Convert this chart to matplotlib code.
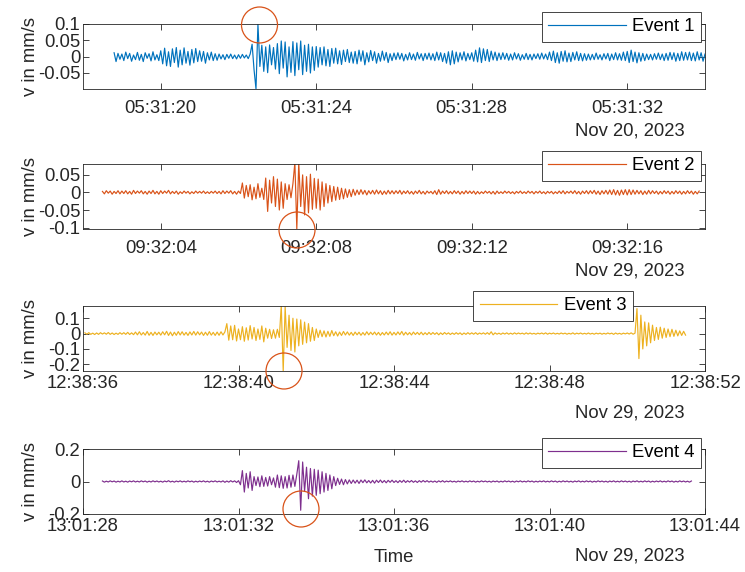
import numpy as np
import matplotlib
matplotlib.use('Agg')
import matplotlib.pyplot as plt
import matplotlib.dates as mdates
from matplotlib.patches import Ellipse
from matplotlib.ticker import FixedLocator, FixedFormatter

plt.rcParams['font.family'] = ['Liberation Sans', 'DejaVu Sans']
plt.rcParams['axes.unicode_minus'] = False

# ---------------- data (velocity in 0.001 mm/s, sampled every 50 ms) ----------------
SAMPLE_MS = 50
labels = ['Event 1', 'Event 2', 'Event 3', 'Event 4']
colors = ['#0072BD', '#D95319', '#EDB120', '#7E2F8E']
starts = ['2023-11-20T05:31:18.800', '2023-11-29T09:32:02.500',
          '2023-11-29T12:38:36.050', '2023-11-29T13:01:28.500']
windows = [('2023-11-20T05:31:18', '2023-11-20T05:31:34'),
           ('2023-11-29T09:32:02', '2023-11-29T09:32:18'),
           ('2023-11-29T12:38:36', '2023-11-29T12:38:52'),
           ('2023-11-29T13:01:28', '2023-11-29T13:01:44')]
date_labels = ['Nov 20, 2023', 'Nov 29, 2023', 'Nov 29, 2023', 'Nov 29, 2023']
ylims = [(-0.099, 0.1), (-0.104, 0.081), (-0.244, 0.182), (-0.2, 0.2)]
yticks = [[-0.05, 0, 0.05, 0.1], [-0.1, -0.05, 0, 0.05],
          [-0.2, -0.1, 0, 0.1], [-0.2, 0, 0.2]]
ytick_labels = [['-0.05', '0', '0.05', '0.1'], ['-0.1', '-0.05', '0', '0.05'],
                ['-0.2', '-0.1', '0', '0.1'], ['-0.2', '0', '0.2']]

v1 = [12, -15, 10, -8,
      8, -12, 14, -6, 10, -14, 5, -9, 13, -11, 7, -15, 12, -5, 9, -13, 15, -10, 6, -12,
      18, -22, 26, -28, 15, -30, 24, -18, 28, -32, 20, -25, 27, -20, 16, -26, 22, -19, 25, -15,
      18, -14, 16, -20, 12, -10, 14, -12, 9, -11, 8, -7, 6, -9, 7, -5, 8, -6, 5, -7,
      6, -5, 7, -4, 5, -6, 8, 38, -40, -99, 100, -30, 35, -45, 30, -49, 36, -25, 28, -38,
      40, -52, 48, -35, 45, -62, 30, -48, 46, -58, 42, -40, 48, -55, 35, -45, 38, -50, 30, -42,
      31, -32, 28, -25, 30, -28, 22, -30, 25, -20, 26, -22, 18, -24, 20, -15, 22, -18, 14, -20,
      16, -22, 20, -14, 18, -25, 12, -16, 19, -12, 15, -20, 10, -14, 17, -11, 13, -18, 9, -12,
      11, -9, 12, -8, 10, -13, 7, -10, 12, -9, 8, -11, 13, -7, 9, -12, 10, -8, 11, -10,
      9, -12, 14, -10, 12, -15, 10, -20, 15, -25, 18, -22, 14, -16, 12, -10, 15, -13, 10, -9,
      12, -14, 20, -16, 27, -18, 24, -12, 22, -15, 17, -10, 14, -12, 11, -9, 12, -8, 10, -11,
      8, -10, 12, -7, 9, -11, 6, -8, 10, -9, 7, -10, 8, -6, 9, -8, 11, -7, 8, -9,
      14, -12, 17, -18, 12, -20, 16, -14, 18, -16, 11, -15, 13, -10, 15, -12, 10, -13, 9, -11,
      8, -10, 7, -9, 11, -8, 6, -10, 9, -7, 10, -12, 8, -9, 12, -10, 9, -11, 14, -12,
      16, -18, 20, -15, 14, -19, 12, -14, 10, -12, 8, -9, 7, -10, 9, -8, 11, -9, 8, -12,
      10, -11, 13, -9, 12, -14, 10, -12, 15, -11, 13, -10, 14, -12, 11, -13, 15, -10, 12, -14,
      8]

v2 = [3, -4, 5, -2, 4, -5, 3, -3, 5, -4,
      4, -3, 5, -4, 3, -5, 6, -3, 4, -2, 5, -4, 3, -5, 4, -3, 6, -4, 3, -5,
      5, -3, 4, -2, 6, -4, 3, -3, 4, -5, 2, -3, 4, -2, 3, -4, 2, -3, 4, -2,
      3, -2, 4, -3, 2, -3, 3, -2, 4, -3, 3, -4, 5, -3, 4, -2, 5, -4, 3, -5,
      4, -3, 27, -16, 20, -12, 22, -21, 15, -18, 25, -14, 12, -20, 41, -54, 35, -30, 45, -40,
      38, -50, 30, -45, 25, -20, 22, -15, 25, 85, -104, 85, -40, 50, -64, 45, -58, 52, -48, 40,
      -45, 38, -50, 30, -40, 25, -30, 20, -26, 17, -22, 15, -20, 12, -18, 10, -14, 8, -12, 9,
      -8, 7, -6, 8, -5, 6, -7, 5, -4, 6, -5, 7, -4, 5, -6, 4, -5, 6, -4, 5,
      -4, 5, -3, 6, -5, 4, -3, 5, -4, 3, -5, 4, -3, 6, -4, 3, -5, 4, -2, 3,
      -4, 5, -6, 8, -5, 4, -3, 5, -4, 3, -4, 5, -3, 4, -5, 3, -4, 5, -3, 4,
      -3, 4, -5, 3, -4, 2, -3, 4, -2, 3, -4, 3, -5, 4, -3, 2, -3, 4, -2, 3,
      -3, 2, -4, 3, -2, 4, -3, 2, -3, 4, -2, 3, -4, 3, -2, 4, -3, 2, -4, 3,
      -2, 3, -4, 2, -3, 4, -3, 5, -4, 3, -2, 4, -3, 5, -4, 3, -5, 4, -3, 5,
      -4, 5, -3, 6, -5, 4, -6, 5, -4, 6, -5, 7, -6, 8, -7, 6, -8, 7, -6, 8,
      -7, 8, -6, 7, -5, 6, -4, 5, -6, 4, -5, 6, -4, 5, -3, 4, -5, 3, -4, 5,
      -3, 4, -5, 3, -4, 5, -3, 4, -5, 3, -4, 5, -3, 4, -5, 3, -4, 4]

v3 = [5, -4, 6, -5, 3, -6, 4, -5, 6, -3, 5, -4, 7, -5, 4, -6, 3, -5, 6,
      -4, 6, -5, 8, -6, 5, -7, 10, -8, 12, -9, 7, -10, 14, -11, 8, -12, 10, -8, 9,
      -10, 12, -8, 15, -12, 10, -14, 9, -11, 13, -9, 12, -10, 8, -12, 11, -9, 14, -10, 12,
      -8, 10, -12, 9, -11, 13, -10, 8, -12, 10, -11, 12, -9, 11, 65, -43, 50, -40, 54, -48,
      30, -40, 45, -50, 38, -42, 52, -35, 40, -45, 30, -38, 50, -54, 35, -30, 28, -32, 25, -30,
      28, -25, 185, -245, 175, -90, 120, -110, 100, -120, 95, -80, 90, -70, 75, -60, 65, -50, 40, -45,
      30, -25, 22, -20, 18, -22, 15, -18, 20, -14, 12, -16, 10, -12, 14, -9, 11, -10, 8, -12,
      10, -8, 9, -11, 7, -10, 12, -8, 9, -7, 10, -9, 8, -11, 7, -9, 10, -8, 12, -10,
      8, -9, 11, -7, 14, -10, 9, -8, 7, -9, 10, -6, 8, -7, 9, -8, 6, -7, 8, -6,
      7, -5, 6, -8, 5, -6, 7, -4, 5, -6, 4, -5, 6, -4, 5, -7, 4, -5, 6, -4,
      5, -4, 6, -5, 4, -3, 5, -4, 6, -5, 12, -8, 5, -4, 3, -5, 4, -3, 5, -4,
      3, -4, 5, -3, 4, -2, 3, -4, 5, -3, 4, -3, 2, -4, 3, -2, 4, -3, 5, -4,
      3, -2, 4, -3, 2, -3, 4, -2, 3, -4, 2, -3, 5, -4, 3, -2, 4, -3, 2, -3,
      4, -3, 2, -4, 3, -2, 3, -4, 2, -3, 4, -2, 3, -5, 4, -3, 2, -4, 3, -2,
      4, -3, 5, -4, 3, 163, -163, 120, -100, 76, -80, 70, -60, 55, -45, 40, -38, 42, -30, 35,
      -25, 30, -20, 28, -18, 22, -15, 18, -12, 15, -10]

v4 = [3, -4, 2, -3, 4, -2, 3, -4, 2, -3,
      4, -3, 2, -4, 3, -2, 4, -3, 2, -3, 4, -2, 3, -4, 2, -3, 4, -2, 3, -3,
      2, -4, 3, -2, 5, -3, 2, -4, 3, -2, 4, -3, 2, -3, 4, -2, 3, -4, 2, -3,
      3, -2, 4, -3, 2, -4, 3, -2, 4, -3, 2, -3, 4, -5, 3, -4, 5, -3, 4, -6,
      5, -20, 67, -65, 50, -40, 60, -55, 30, -25, 28, -32, 35, -30, 25, -28, 30, -20, 22, -35,
      40, -38, 35, -42, 30, -40, 38, -35, 40, -30, 45, 128, -177, 120, -60, 88, -106, 80, -90, 75,
      -85, 70, -75, 60, -65, 50, -55, 40, -45, 30, -25, 20, -18, 15, -20, 12, -15, 10, -12, 9,
      -10, 8, -12, 9, -7, 10, -8, 6, -9, 7, -10, 8, -6, 9, -7, 6, -8, 7, -5, 8,
      -6, 5, -7, 6, -5, 8, -6, 5, -4, 6, -5, 4, -6, 5, -4, 6, -3, 5, -4, 3,
      -4, 3, -5, 4, -3, 5, -4, 3, -2, 4, -3, 2, -4, 3, -2, 4, -3, 2, -3, 4,
      -2, 3, -4, 2, -3, 4, -2, 3, -3, 2, -4, 3, -2, 3, -4, 2, -3, 4, -2, 3,
      -3, 2, -4, 3, -2, 4, -3, 2, -3, 4, -2, 3, -4, 2, -3, 3, -2, 4, -3, 2,
      -3, 4, -2, 3, -4, 2, -3, 4, -2, 3, -3, 2, -4, 3, -2, 4, -3, 2, -3, 4,
      -2, 3, -4, 2, -3, 4, -2, 3, -3, 2, -4, 3, -2, 4, -3, 2, -3, 4, -2, 3,
      -3, 2, -4, 3, -2, 4, -3, 2, -3, 4, -2, 3, -4, 2, -3, 3, -2, 4, -3, 2,
      -3, 4, -2, 3, -4, 2, -3, 4, -2, 3, -3, 2, -4, 3]

series = [v1, v2, v3, v4]

# ---------------- layout (figure pixels) ----------------
W, H = 745, 572
axes_px = [(83, 24, 705, 89), (83, 164, 705, 229), (83, 305.7, 705, 371), (83, 449, 705, 514)]
legend_anchor_px = [(701, 11.7), (701, 151), (633, 291), (701, 437.7)]
xlabel_pad = [8.2, 8.2, 3.2, 3.2]
date_pos_px = [(630, 131), (630, 271), (630, 413), (630, 556)]
circles_px = [(259.5, 25), (297, 230), (284, 371), (301, 509)]
CIRCLE_R = 18

TXT = '#262626'
FS = 13.3

fig = plt.figure(figsize=(W / 100, H / 100), dpi=100)

for i in range(4):
    l, t, r, b = axes_px[i]
    ax = fig.add_axes([l / W, 1 - b / H, (r - l) / W, (b - t) / H])
    t0 = np.datetime64(starts[i])
    times = t0 + np.arange(len(series[i])) * np.timedelta64(SAMPLE_MS, 'ms')
    vals = np.array(series[i]) * 0.001
    ax.plot(times, vals, color=colors[i], lw=0.85, label=labels[i])
    ax.set_xlim(np.datetime64(windows[i][0]), np.datetime64(windows[i][1]))
    ax.set_ylim(*ylims[i])
    ax.xaxis.set_major_locator(mdates.SecondLocator(bysecond=range(0, 60, 4)))
    ax.xaxis.set_major_formatter(mdates.DateFormatter('%H:%M:%S'))
    ax.yaxis.set_major_locator(FixedLocator(yticks[i]))
    ax.yaxis.set_major_formatter(FixedFormatter(ytick_labels[i]))
    ax.tick_params(direction='in', length=4.3, width=0.6, colors=TXT,
                   labelsize=FS, top=True, right=True)
    ax.tick_params(axis='x', pad=xlabel_pad[i])
    ax.tick_params(axis='y', pad=2)
    for s in ax.spines.values():
        s.set_color(TXT)
        s.set_linewidth(0.6)
    ax.set_ylabel('v in mm/s', fontsize=FS, color=TXT)
    ax.yaxis.set_label_coords(-0.07, 0.5)

    lx, ly = legend_anchor_px[i]
    leg = ax.legend(loc='upper right', bbox_to_anchor=(lx / W, 1 - ly / H),
                    bbox_transform=fig.transFigure, fontsize=FS, fancybox=False,
                    framealpha=1, edgecolor=TXT, borderaxespad=0, borderpad=0.35,
                    handlelength=4.2, handletextpad=0.35)
    leg.get_frame().set_linewidth(0.6)
    leg.set_zorder(5)

    dx, dy = date_pos_px[i]
    fig.text(dx / W, 1 - dy / H, date_labels[i], ha='center', va='center',
             fontsize=FS, color=TXT)

    cx, cy = circles_px[i]
    fig.add_artist(Ellipse((cx / W, 1 - cy / H), 2 * CIRCLE_R / W, 2 * CIRCLE_R / H,
                           transform=fig.transFigure, fill=False,
                           edgecolor='#D95319', lw=0.9, zorder=10))

fig.text(394 / W, 1 - 557 / H, 'Time', ha='center', va='center', fontsize=FS, color=TXT)

fig.savefig('out.png', dpi=100)
